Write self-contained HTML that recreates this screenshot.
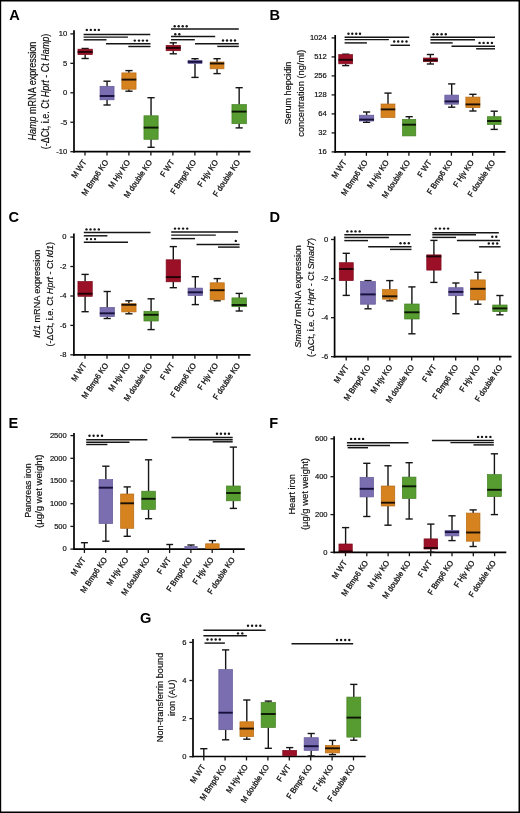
<!DOCTYPE html>
<html><head><meta charset="utf-8"><style>html,body{margin:0;padding:0;background:#fff;}svg{display:block;will-change:transform;}#w{width:520px;height:813px;overflow:hidden;}text{stroke:#222;stroke-width:0.18px;}</style></head><body><div id="w">
<svg width="520" height="813" viewBox="0 0 520 813">
<rect x="0" y="0" width="520" height="813" fill="#000"/>
<rect x="1.2" y="1.5" width="517.3" height="810" fill="#fff"/>
<text x="9.30" y="20.10" font-family='"Liberation Sans", sans-serif' font-weight="bold" font-size="14.60" style="stroke:none">A</text>
<line x1="74.00" y1="30.20" x2="74.00" y2="152.55" stroke="#000" stroke-width="1.7"/>
<line x1="73.15" y1="151.70" x2="250.50" y2="151.70" stroke="#000" stroke-width="1.7"/>
<line x1="70.40" y1="33.90" x2="74.00" y2="33.90" stroke="#151515" stroke-width="1.3"/>
<line x1="70.40" y1="63.35" x2="74.00" y2="63.35" stroke="#151515" stroke-width="1.3"/>
<line x1="70.40" y1="92.80" x2="74.00" y2="92.80" stroke="#151515" stroke-width="1.3"/>
<line x1="70.40" y1="122.25" x2="74.00" y2="122.25" stroke="#151515" stroke-width="1.3"/>
<line x1="70.40" y1="151.70" x2="74.00" y2="151.70" stroke="#151515" stroke-width="1.3"/>
<line x1="85.00" y1="151.70" x2="85.00" y2="155.60" stroke="#151515" stroke-width="1.3"/>
<line x1="107.00" y1="151.70" x2="107.00" y2="155.60" stroke="#151515" stroke-width="1.3"/>
<line x1="128.90" y1="151.70" x2="128.90" y2="155.60" stroke="#151515" stroke-width="1.3"/>
<line x1="150.90" y1="151.70" x2="150.90" y2="155.60" stroke="#151515" stroke-width="1.3"/>
<line x1="172.90" y1="151.70" x2="172.90" y2="155.60" stroke="#151515" stroke-width="1.3"/>
<line x1="194.90" y1="151.70" x2="194.90" y2="155.60" stroke="#151515" stroke-width="1.3"/>
<line x1="216.90" y1="151.70" x2="216.90" y2="155.60" stroke="#151515" stroke-width="1.3"/>
<line x1="238.90" y1="151.70" x2="238.90" y2="155.60" stroke="#151515" stroke-width="1.3"/>
<text x="67.30" y="36.26" text-anchor="end" font-family='"Liberation Sans", sans-serif' font-size="7.6">10</text>
<text x="67.30" y="65.71" text-anchor="end" font-family='"Liberation Sans", sans-serif' font-size="7.6">5</text>
<text x="67.30" y="95.16" text-anchor="end" font-family='"Liberation Sans", sans-serif' font-size="7.6">0</text>
<text x="67.30" y="124.61" text-anchor="end" font-family='"Liberation Sans", sans-serif' font-size="7.6">-5</text>
<text x="67.30" y="154.06" text-anchor="end" font-family='"Liberation Sans", sans-serif' font-size="7.6">-10</text>
<text transform="translate(35.90,91.10) rotate(-90)" text-anchor="middle" font-family='"Liberation Sans", sans-serif' font-size="10.20" textLength="99.00" lengthAdjust="spacingAndGlyphs"><tspan font-style="italic">Hamp</tspan> mRNA expression</text>
<text transform="translate(48.60,91.40) rotate(-90)" text-anchor="middle" font-family='"Liberation Sans", sans-serif' font-size="10.20" textLength="115.50" lengthAdjust="spacingAndGlyphs">(-ΔCt, i.e. Ct <tspan font-style="italic">Hprt</tspan> - Ct <tspan font-style="italic">Hamp</tspan>)</text>
<text transform="translate(86.70,162.20) rotate(-56) scale(0.93,1)" text-anchor="end" font-family='"Liberation Sans", sans-serif' font-size="8.1" style="stroke-width:0.3px">M WT</text>
<text transform="translate(108.70,162.20) rotate(-56) scale(0.93,1)" text-anchor="end" font-family='"Liberation Sans", sans-serif' font-size="8.1" style="stroke-width:0.3px">M Bmp6 KO</text>
<text transform="translate(130.60,162.20) rotate(-56) scale(0.93,1)" text-anchor="end" font-family='"Liberation Sans", sans-serif' font-size="8.1" style="stroke-width:0.3px">M Hjv KO</text>
<text transform="translate(152.60,162.20) rotate(-56) scale(0.93,1)" text-anchor="end" font-family='"Liberation Sans", sans-serif' font-size="8.1" style="stroke-width:0.3px">M double KO</text>
<text transform="translate(174.60,162.20) rotate(-56) scale(0.93,1)" text-anchor="end" font-family='"Liberation Sans", sans-serif' font-size="8.1" style="stroke-width:0.3px">F WT</text>
<text transform="translate(196.60,162.20) rotate(-56) scale(0.93,1)" text-anchor="end" font-family='"Liberation Sans", sans-serif' font-size="8.1" style="stroke-width:0.3px">F Bmp6 KO</text>
<text transform="translate(218.60,162.20) rotate(-56) scale(0.93,1)" text-anchor="end" font-family='"Liberation Sans", sans-serif' font-size="8.1" style="stroke-width:0.3px">F Hjv KO</text>
<text transform="translate(240.60,162.20) rotate(-56) scale(0.93,1)" text-anchor="end" font-family='"Liberation Sans", sans-serif' font-size="8.1" style="stroke-width:0.3px">F double KO</text>
<line x1="85.15" y1="48.50" x2="85.15" y2="49.20" stroke="#151515" stroke-width="1.4"/>
<line x1="81.55" y1="48.50" x2="88.75" y2="48.50" stroke="#151515" stroke-width="1.4"/>
<line x1="85.15" y1="54.60" x2="85.15" y2="58.50" stroke="#151515" stroke-width="1.4"/>
<line x1="81.55" y1="58.50" x2="88.75" y2="58.50" stroke="#151515" stroke-width="1.4"/>
<rect x="77.95" y="49.20" width="14.40" height="5.40" fill="#9b1026" stroke="#7c0a1c" stroke-width="0.7"/>
<line x1="77.70" y1="51.90" x2="92.60" y2="51.90" stroke="#1e0206" stroke-width="1.9"/>
<line x1="107.05" y1="81.20" x2="107.05" y2="86.30" stroke="#151515" stroke-width="1.4"/>
<line x1="103.45" y1="81.20" x2="110.65" y2="81.20" stroke="#151515" stroke-width="1.4"/>
<line x1="107.05" y1="99.80" x2="107.05" y2="105.00" stroke="#151515" stroke-width="1.4"/>
<line x1="103.45" y1="105.00" x2="110.65" y2="105.00" stroke="#151515" stroke-width="1.4"/>
<rect x="100.05" y="86.30" width="14.00" height="13.50" fill="#7a6db0" stroke="#625896" stroke-width="0.7"/>
<line x1="99.80" y1="96.00" x2="114.30" y2="96.00" stroke="#15113a" stroke-width="1.9"/>
<line x1="128.95" y1="70.60" x2="128.95" y2="72.90" stroke="#151515" stroke-width="1.4"/>
<line x1="125.35" y1="70.60" x2="132.55" y2="70.60" stroke="#151515" stroke-width="1.4"/>
<line x1="128.95" y1="89.20" x2="128.95" y2="91.20" stroke="#151515" stroke-width="1.4"/>
<line x1="125.35" y1="91.20" x2="132.55" y2="91.20" stroke="#151515" stroke-width="1.4"/>
<rect x="121.85" y="72.90" width="14.20" height="16.30" fill="#d6821f" stroke="#b86c15" stroke-width="0.7"/>
<line x1="121.60" y1="79.60" x2="136.30" y2="79.60" stroke="#1a1006" stroke-width="1.9"/>
<line x1="151.05" y1="97.70" x2="151.05" y2="115.80" stroke="#151515" stroke-width="1.4"/>
<line x1="147.45" y1="97.70" x2="154.65" y2="97.70" stroke="#151515" stroke-width="1.4"/>
<line x1="151.05" y1="139.30" x2="151.05" y2="147.30" stroke="#151515" stroke-width="1.4"/>
<line x1="147.45" y1="147.30" x2="154.65" y2="147.30" stroke="#151515" stroke-width="1.4"/>
<rect x="143.95" y="115.80" width="14.20" height="23.50" fill="#579c30" stroke="#447f24" stroke-width="0.7"/>
<line x1="143.70" y1="127.60" x2="158.40" y2="127.60" stroke="#0c1606" stroke-width="1.9"/>
<line x1="173.25" y1="42.80" x2="173.25" y2="45.40" stroke="#151515" stroke-width="1.4"/>
<line x1="169.65" y1="42.80" x2="176.85" y2="42.80" stroke="#151515" stroke-width="1.4"/>
<line x1="173.25" y1="50.70" x2="173.25" y2="53.80" stroke="#151515" stroke-width="1.4"/>
<line x1="169.65" y1="53.80" x2="176.85" y2="53.80" stroke="#151515" stroke-width="1.4"/>
<rect x="166.15" y="45.40" width="14.20" height="5.30" fill="#9b1026" stroke="#7c0a1c" stroke-width="0.7"/>
<line x1="165.90" y1="47.90" x2="180.60" y2="47.90" stroke="#1e0206" stroke-width="1.9"/>
<line x1="195.00" y1="58.70" x2="195.00" y2="60.30" stroke="#151515" stroke-width="1.4"/>
<line x1="191.40" y1="58.70" x2="198.60" y2="58.70" stroke="#151515" stroke-width="1.4"/>
<line x1="195.00" y1="63.50" x2="195.00" y2="77.40" stroke="#151515" stroke-width="1.4"/>
<line x1="191.40" y1="77.40" x2="198.60" y2="77.40" stroke="#151515" stroke-width="1.4"/>
<rect x="188.05" y="60.30" width="13.90" height="3.20" fill="#7a6db0" stroke="#625896" stroke-width="0.7"/>
<line x1="187.80" y1="61.90" x2="202.20" y2="61.90" stroke="#15113a" stroke-width="1.9"/>
<line x1="217.05" y1="58.70" x2="217.05" y2="62.00" stroke="#151515" stroke-width="1.4"/>
<line x1="213.45" y1="58.70" x2="220.65" y2="58.70" stroke="#151515" stroke-width="1.4"/>
<line x1="217.05" y1="68.80" x2="217.05" y2="73.60" stroke="#151515" stroke-width="1.4"/>
<line x1="213.45" y1="73.60" x2="220.65" y2="73.60" stroke="#151515" stroke-width="1.4"/>
<rect x="210.15" y="62.00" width="13.80" height="6.80" fill="#d6821f" stroke="#b86c15" stroke-width="0.7"/>
<line x1="209.90" y1="63.50" x2="224.20" y2="63.50" stroke="#1a1006" stroke-width="1.9"/>
<line x1="239.15" y1="87.70" x2="239.15" y2="104.60" stroke="#151515" stroke-width="1.4"/>
<line x1="235.55" y1="87.70" x2="242.75" y2="87.70" stroke="#151515" stroke-width="1.4"/>
<line x1="239.15" y1="123.70" x2="239.15" y2="127.90" stroke="#151515" stroke-width="1.4"/>
<line x1="235.55" y1="127.90" x2="242.75" y2="127.90" stroke="#151515" stroke-width="1.4"/>
<rect x="231.95" y="104.60" width="14.40" height="19.10" fill="#579c30" stroke="#447f24" stroke-width="0.7"/>
<line x1="231.70" y1="111.60" x2="246.60" y2="111.60" stroke="#0c1606" stroke-width="1.9"/>
<circle cx="86.80" cy="29.90" r="1.2" fill="#151515"/>
<circle cx="90.80" cy="29.90" r="1.2" fill="#151515"/>
<circle cx="94.90" cy="29.90" r="1.2" fill="#151515"/>
<circle cx="98.80" cy="29.90" r="1.2" fill="#151515"/>
<line x1="83.60" y1="34.50" x2="150.30" y2="34.50" stroke="#151515" stroke-width="1.45"/>
<line x1="83.60" y1="37.10" x2="127.90" y2="37.10" stroke="#151515" stroke-width="1.45"/>
<line x1="83.60" y1="39.80" x2="106.50" y2="39.80" stroke="#151515" stroke-width="1.45"/>
<line x1="106.00" y1="43.80" x2="150.50" y2="43.80" stroke="#151515" stroke-width="1.45"/>
<line x1="128.30" y1="46.50" x2="150.50" y2="46.50" stroke="#151515" stroke-width="1.45"/>
<circle cx="134.80" cy="40.60" r="1.2" fill="#151515"/>
<circle cx="139.00" cy="40.60" r="1.2" fill="#151515"/>
<circle cx="142.90" cy="40.60" r="1.2" fill="#151515"/>
<circle cx="147.00" cy="40.60" r="1.2" fill="#151515"/>
<circle cx="174.70" cy="26.30" r="1.2" fill="#151515"/>
<circle cx="178.70" cy="26.30" r="1.2" fill="#151515"/>
<circle cx="182.70" cy="26.30" r="1.2" fill="#151515"/>
<circle cx="186.70" cy="26.30" r="1.2" fill="#151515"/>
<circle cx="175.30" cy="34.20" r="1.2" fill="#151515"/>
<circle cx="179.30" cy="34.20" r="1.2" fill="#151515"/>
<circle cx="223.00" cy="40.50" r="1.2" fill="#151515"/>
<circle cx="227.00" cy="40.50" r="1.2" fill="#151515"/>
<circle cx="231.00" cy="40.50" r="1.2" fill="#151515"/>
<circle cx="235.00" cy="40.50" r="1.2" fill="#151515"/>
<line x1="171.00" y1="28.90" x2="238.80" y2="28.90" stroke="#151515" stroke-width="1.45"/>
<line x1="171.00" y1="36.50" x2="215.20" y2="36.50" stroke="#151515" stroke-width="1.45"/>
<line x1="171.00" y1="39.70" x2="194.80" y2="39.70" stroke="#151515" stroke-width="1.45"/>
<line x1="195.00" y1="43.70" x2="238.80" y2="43.70" stroke="#151515" stroke-width="1.45"/>
<line x1="217.30" y1="46.40" x2="238.80" y2="46.40" stroke="#151515" stroke-width="1.45"/>
<text x="269.40" y="20.30" font-family='"Liberation Sans", sans-serif' font-weight="bold" font-size="14.60" style="stroke:none">B</text>
<line x1="335.20" y1="35.00" x2="335.20" y2="152.75" stroke="#000" stroke-width="1.7"/>
<line x1="334.35" y1="151.90" x2="505.60" y2="151.90" stroke="#000" stroke-width="1.7"/>
<line x1="331.60" y1="37.90" x2="335.20" y2="37.90" stroke="#151515" stroke-width="1.3"/>
<line x1="331.60" y1="56.90" x2="335.20" y2="56.90" stroke="#151515" stroke-width="1.3"/>
<line x1="331.60" y1="75.90" x2="335.20" y2="75.90" stroke="#151515" stroke-width="1.3"/>
<line x1="331.60" y1="94.90" x2="335.20" y2="94.90" stroke="#151515" stroke-width="1.3"/>
<line x1="331.60" y1="113.90" x2="335.20" y2="113.90" stroke="#151515" stroke-width="1.3"/>
<line x1="331.60" y1="132.90" x2="335.20" y2="132.90" stroke="#151515" stroke-width="1.3"/>
<line x1="331.60" y1="151.90" x2="335.20" y2="151.90" stroke="#151515" stroke-width="1.3"/>
<line x1="345.20" y1="151.90" x2="345.20" y2="155.80" stroke="#151515" stroke-width="1.3"/>
<line x1="366.40" y1="151.90" x2="366.40" y2="155.80" stroke="#151515" stroke-width="1.3"/>
<line x1="387.60" y1="151.90" x2="387.60" y2="155.80" stroke="#151515" stroke-width="1.3"/>
<line x1="408.90" y1="151.90" x2="408.90" y2="155.80" stroke="#151515" stroke-width="1.3"/>
<line x1="430.20" y1="151.90" x2="430.20" y2="155.80" stroke="#151515" stroke-width="1.3"/>
<line x1="451.40" y1="151.90" x2="451.40" y2="155.80" stroke="#151515" stroke-width="1.3"/>
<line x1="472.60" y1="151.90" x2="472.60" y2="155.80" stroke="#151515" stroke-width="1.3"/>
<line x1="493.80" y1="151.90" x2="493.80" y2="155.80" stroke="#151515" stroke-width="1.3"/>
<text x="326.80" y="40.26" text-anchor="end" font-family='"Liberation Sans", sans-serif' font-size="7.6">1024</text>
<text x="326.80" y="59.26" text-anchor="end" font-family='"Liberation Sans", sans-serif' font-size="7.6">512</text>
<text x="326.80" y="78.26" text-anchor="end" font-family='"Liberation Sans", sans-serif' font-size="7.6">256</text>
<text x="326.80" y="97.26" text-anchor="end" font-family='"Liberation Sans", sans-serif' font-size="7.6">128</text>
<text x="326.80" y="116.26" text-anchor="end" font-family='"Liberation Sans", sans-serif' font-size="7.6">64</text>
<text x="326.80" y="135.26" text-anchor="end" font-family='"Liberation Sans", sans-serif' font-size="7.6">32</text>
<text x="326.80" y="154.26" text-anchor="end" font-family='"Liberation Sans", sans-serif' font-size="7.6">16</text>
<text transform="translate(291.00,93.10) rotate(-90)" text-anchor="middle" font-family='"Liberation Sans", sans-serif' font-size="9.40" textLength="63.00" lengthAdjust="spacingAndGlyphs">Serum hepcidin</text>
<text transform="translate(304.00,93.25) rotate(-90)" text-anchor="middle" font-family='"Liberation Sans", sans-serif' font-size="9.40" textLength="87.00" lengthAdjust="spacingAndGlyphs">concentration (ng/ml)</text>
<text transform="translate(346.90,162.40) rotate(-56) scale(0.93,1)" text-anchor="end" font-family='"Liberation Sans", sans-serif' font-size="8.1" style="stroke-width:0.3px">M WT</text>
<text transform="translate(368.10,162.40) rotate(-56) scale(0.93,1)" text-anchor="end" font-family='"Liberation Sans", sans-serif' font-size="8.1" style="stroke-width:0.3px">M Bmp6 KO</text>
<text transform="translate(389.30,162.40) rotate(-56) scale(0.93,1)" text-anchor="end" font-family='"Liberation Sans", sans-serif' font-size="8.1" style="stroke-width:0.3px">M Hjv KO</text>
<text transform="translate(410.60,162.40) rotate(-56) scale(0.93,1)" text-anchor="end" font-family='"Liberation Sans", sans-serif' font-size="8.1" style="stroke-width:0.3px">M double KO</text>
<text transform="translate(431.90,162.40) rotate(-56) scale(0.93,1)" text-anchor="end" font-family='"Liberation Sans", sans-serif' font-size="8.1" style="stroke-width:0.3px">F WT</text>
<text transform="translate(453.10,162.40) rotate(-56) scale(0.93,1)" text-anchor="end" font-family='"Liberation Sans", sans-serif' font-size="8.1" style="stroke-width:0.3px">F Bmp6 KO</text>
<text transform="translate(474.30,162.40) rotate(-56) scale(0.93,1)" text-anchor="end" font-family='"Liberation Sans", sans-serif' font-size="8.1" style="stroke-width:0.3px">F Hjv KO</text>
<text transform="translate(495.50,162.40) rotate(-56) scale(0.93,1)" text-anchor="end" font-family='"Liberation Sans", sans-serif' font-size="8.1" style="stroke-width:0.3px">F double KO</text>
<line x1="345.70" y1="54.20" x2="345.70" y2="54.60" stroke="#151515" stroke-width="1.4"/>
<line x1="342.10" y1="54.20" x2="349.30" y2="54.20" stroke="#151515" stroke-width="1.4"/>
<line x1="345.70" y1="63.80" x2="345.70" y2="65.60" stroke="#151515" stroke-width="1.4"/>
<line x1="342.10" y1="65.60" x2="349.30" y2="65.60" stroke="#151515" stroke-width="1.4"/>
<rect x="338.75" y="54.60" width="13.90" height="9.20" fill="#9b1026" stroke="#7c0a1c" stroke-width="0.7"/>
<line x1="338.50" y1="59.80" x2="352.90" y2="59.80" stroke="#1e0206" stroke-width="1.9"/>
<line x1="366.60" y1="112.00" x2="366.60" y2="115.20" stroke="#151515" stroke-width="1.4"/>
<line x1="363.00" y1="112.00" x2="370.20" y2="112.00" stroke="#151515" stroke-width="1.4"/>
<line x1="366.60" y1="121.00" x2="366.60" y2="122.30" stroke="#151515" stroke-width="1.4"/>
<line x1="363.00" y1="122.30" x2="370.20" y2="122.30" stroke="#151515" stroke-width="1.4"/>
<rect x="359.45" y="115.20" width="14.30" height="5.80" fill="#7a6db0" stroke="#625896" stroke-width="0.7"/>
<line x1="359.20" y1="119.60" x2="374.00" y2="119.60" stroke="#15113a" stroke-width="1.9"/>
<line x1="388.00" y1="93.10" x2="388.00" y2="104.00" stroke="#151515" stroke-width="1.4"/>
<line x1="384.40" y1="93.10" x2="391.60" y2="93.10" stroke="#151515" stroke-width="1.4"/>
<rect x="381.05" y="104.00" width="13.90" height="13.50" fill="#d6821f" stroke="#b86c15" stroke-width="0.7"/>
<line x1="380.80" y1="109.40" x2="395.20" y2="109.40" stroke="#1a1006" stroke-width="1.9"/>
<line x1="409.15" y1="116.70" x2="409.15" y2="119.40" stroke="#151515" stroke-width="1.4"/>
<line x1="405.55" y1="116.70" x2="412.75" y2="116.70" stroke="#151515" stroke-width="1.4"/>
<rect x="402.55" y="119.40" width="13.20" height="16.50" fill="#579c30" stroke="#447f24" stroke-width="0.7"/>
<line x1="402.30" y1="124.70" x2="416.00" y2="124.70" stroke="#0c1606" stroke-width="1.9"/>
<line x1="430.40" y1="54.50" x2="430.40" y2="58.00" stroke="#151515" stroke-width="1.4"/>
<line x1="426.80" y1="54.50" x2="434.00" y2="54.50" stroke="#151515" stroke-width="1.4"/>
<line x1="430.40" y1="61.70" x2="430.40" y2="64.00" stroke="#151515" stroke-width="1.4"/>
<line x1="426.80" y1="64.00" x2="434.00" y2="64.00" stroke="#151515" stroke-width="1.4"/>
<rect x="423.45" y="58.00" width="13.90" height="3.70" fill="#9b1026" stroke="#7c0a1c" stroke-width="0.7"/>
<line x1="423.20" y1="60.20" x2="437.60" y2="60.20" stroke="#1e0206" stroke-width="1.9"/>
<line x1="451.70" y1="83.90" x2="451.70" y2="95.10" stroke="#151515" stroke-width="1.4"/>
<line x1="448.10" y1="83.90" x2="455.30" y2="83.90" stroke="#151515" stroke-width="1.4"/>
<line x1="451.70" y1="104.20" x2="451.70" y2="107.20" stroke="#151515" stroke-width="1.4"/>
<line x1="448.10" y1="107.20" x2="455.30" y2="107.20" stroke="#151515" stroke-width="1.4"/>
<rect x="444.85" y="95.10" width="13.70" height="9.10" fill="#7a6db0" stroke="#625896" stroke-width="0.7"/>
<line x1="444.60" y1="101.40" x2="458.80" y2="101.40" stroke="#15113a" stroke-width="1.9"/>
<line x1="472.90" y1="94.30" x2="472.90" y2="97.10" stroke="#151515" stroke-width="1.4"/>
<line x1="469.30" y1="94.30" x2="476.50" y2="94.30" stroke="#151515" stroke-width="1.4"/>
<line x1="472.90" y1="107.60" x2="472.90" y2="111.00" stroke="#151515" stroke-width="1.4"/>
<line x1="469.30" y1="111.00" x2="476.50" y2="111.00" stroke="#151515" stroke-width="1.4"/>
<rect x="465.85" y="97.10" width="14.10" height="10.50" fill="#d6821f" stroke="#b86c15" stroke-width="0.7"/>
<line x1="465.60" y1="104.40" x2="480.20" y2="104.40" stroke="#1a1006" stroke-width="1.9"/>
<line x1="494.20" y1="111.20" x2="494.20" y2="116.70" stroke="#151515" stroke-width="1.4"/>
<line x1="490.60" y1="111.20" x2="497.80" y2="111.20" stroke="#151515" stroke-width="1.4"/>
<line x1="494.20" y1="124.40" x2="494.20" y2="129.40" stroke="#151515" stroke-width="1.4"/>
<line x1="490.60" y1="129.40" x2="497.80" y2="129.40" stroke="#151515" stroke-width="1.4"/>
<rect x="487.35" y="116.70" width="13.70" height="7.70" fill="#579c30" stroke="#447f24" stroke-width="0.7"/>
<line x1="487.10" y1="121.00" x2="501.30" y2="121.00" stroke="#0c1606" stroke-width="1.9"/>
<circle cx="348.50" cy="33.70" r="1.2" fill="#151515"/>
<circle cx="352.30" cy="33.70" r="1.2" fill="#151515"/>
<circle cx="356.20" cy="33.70" r="1.2" fill="#151515"/>
<circle cx="360.00" cy="33.70" r="1.2" fill="#151515"/>
<line x1="344.60" y1="37.20" x2="409.20" y2="37.20" stroke="#151515" stroke-width="1.45"/>
<line x1="344.60" y1="39.60" x2="388.90" y2="39.60" stroke="#151515" stroke-width="1.45"/>
<line x1="344.60" y1="42.90" x2="366.90" y2="42.90" stroke="#151515" stroke-width="1.45"/>
<line x1="390.50" y1="45.30" x2="410.00" y2="45.30" stroke="#151515" stroke-width="1.45"/>
<circle cx="394.20" cy="41.50" r="1.2" fill="#151515"/>
<circle cx="398.20" cy="41.50" r="1.2" fill="#151515"/>
<circle cx="402.30" cy="41.50" r="1.2" fill="#151515"/>
<circle cx="406.50" cy="41.50" r="1.2" fill="#151515"/>
<circle cx="433.50" cy="34.20" r="1.2" fill="#151515"/>
<circle cx="437.40" cy="34.20" r="1.2" fill="#151515"/>
<circle cx="441.60" cy="34.20" r="1.2" fill="#151515"/>
<circle cx="445.80" cy="34.20" r="1.2" fill="#151515"/>
<line x1="430.40" y1="37.20" x2="495.00" y2="37.20" stroke="#151515" stroke-width="1.45"/>
<line x1="430.40" y1="39.80" x2="475.00" y2="39.80" stroke="#151515" stroke-width="1.45"/>
<line x1="430.40" y1="42.90" x2="452.70" y2="42.90" stroke="#151515" stroke-width="1.45"/>
<line x1="451.50" y1="46.20" x2="495.00" y2="46.20" stroke="#151515" stroke-width="1.45"/>
<line x1="476.10" y1="48.80" x2="495.00" y2="48.80" stroke="#151515" stroke-width="1.45"/>
<circle cx="479.60" cy="42.90" r="1.2" fill="#151515"/>
<circle cx="483.60" cy="42.90" r="1.2" fill="#151515"/>
<circle cx="487.80" cy="42.90" r="1.2" fill="#151515"/>
<circle cx="491.90" cy="42.90" r="1.2" fill="#151515"/>
<text x="8.60" y="222.40" font-family='"Liberation Sans", sans-serif' font-weight="bold" font-size="14.60" style="stroke:none">C</text>
<line x1="73.90" y1="233.60" x2="73.90" y2="355.65" stroke="#000" stroke-width="1.7"/>
<line x1="73.05" y1="354.80" x2="250.50" y2="354.80" stroke="#000" stroke-width="1.7"/>
<line x1="70.30" y1="237.10" x2="73.90" y2="237.10" stroke="#151515" stroke-width="1.3"/>
<line x1="70.30" y1="266.50" x2="73.90" y2="266.50" stroke="#151515" stroke-width="1.3"/>
<line x1="70.30" y1="296.00" x2="73.90" y2="296.00" stroke="#151515" stroke-width="1.3"/>
<line x1="70.30" y1="325.40" x2="73.90" y2="325.40" stroke="#151515" stroke-width="1.3"/>
<line x1="70.30" y1="354.80" x2="73.90" y2="354.80" stroke="#151515" stroke-width="1.3"/>
<line x1="85.00" y1="354.80" x2="85.00" y2="358.70" stroke="#151515" stroke-width="1.3"/>
<line x1="107.00" y1="354.80" x2="107.00" y2="358.70" stroke="#151515" stroke-width="1.3"/>
<line x1="128.90" y1="354.80" x2="128.90" y2="358.70" stroke="#151515" stroke-width="1.3"/>
<line x1="150.90" y1="354.80" x2="150.90" y2="358.70" stroke="#151515" stroke-width="1.3"/>
<line x1="172.90" y1="354.80" x2="172.90" y2="358.70" stroke="#151515" stroke-width="1.3"/>
<line x1="194.90" y1="354.80" x2="194.90" y2="358.70" stroke="#151515" stroke-width="1.3"/>
<line x1="216.90" y1="354.80" x2="216.90" y2="358.70" stroke="#151515" stroke-width="1.3"/>
<line x1="238.90" y1="354.80" x2="238.90" y2="358.70" stroke="#151515" stroke-width="1.3"/>
<text x="66.60" y="239.46" text-anchor="end" font-family='"Liberation Sans", sans-serif' font-size="7.6">0</text>
<text x="66.60" y="268.86" text-anchor="end" font-family='"Liberation Sans", sans-serif' font-size="7.6">-2</text>
<text x="66.60" y="298.36" text-anchor="end" font-family='"Liberation Sans", sans-serif' font-size="7.6">-4</text>
<text x="66.60" y="327.76" text-anchor="end" font-family='"Liberation Sans", sans-serif' font-size="7.6">-6</text>
<text x="66.60" y="357.16" text-anchor="end" font-family='"Liberation Sans", sans-serif' font-size="7.6">-8</text>
<text transform="translate(40.20,293.70) rotate(-90)" text-anchor="middle" font-family='"Liberation Sans", sans-serif' font-size="9.80" textLength="88.00" lengthAdjust="spacingAndGlyphs"><tspan font-style="italic">Id1</tspan> mRNA expression</text>
<text transform="translate(52.60,294.15) rotate(-90)" text-anchor="middle" font-family='"Liberation Sans", sans-serif' font-size="9.80" textLength="104.50" lengthAdjust="spacingAndGlyphs">(-ΔCt, i.e. Ct <tspan font-style="italic">Hprt</tspan> - Ct <tspan font-style="italic">Id1</tspan>)</text>
<text transform="translate(86.70,365.30) rotate(-56) scale(0.93,1)" text-anchor="end" font-family='"Liberation Sans", sans-serif' font-size="8.1" style="stroke-width:0.3px">M WT</text>
<text transform="translate(108.70,365.30) rotate(-56) scale(0.93,1)" text-anchor="end" font-family='"Liberation Sans", sans-serif' font-size="8.1" style="stroke-width:0.3px">M Bmp6 KO</text>
<text transform="translate(130.60,365.30) rotate(-56) scale(0.93,1)" text-anchor="end" font-family='"Liberation Sans", sans-serif' font-size="8.1" style="stroke-width:0.3px">M Hjv KO</text>
<text transform="translate(152.60,365.30) rotate(-56) scale(0.93,1)" text-anchor="end" font-family='"Liberation Sans", sans-serif' font-size="8.1" style="stroke-width:0.3px">M double KO</text>
<text transform="translate(174.60,365.30) rotate(-56) scale(0.93,1)" text-anchor="end" font-family='"Liberation Sans", sans-serif' font-size="8.1" style="stroke-width:0.3px">F WT</text>
<text transform="translate(196.60,365.30) rotate(-56) scale(0.93,1)" text-anchor="end" font-family='"Liberation Sans", sans-serif' font-size="8.1" style="stroke-width:0.3px">F Bmp6 KO</text>
<text transform="translate(218.60,365.30) rotate(-56) scale(0.93,1)" text-anchor="end" font-family='"Liberation Sans", sans-serif' font-size="8.1" style="stroke-width:0.3px">F Hjv KO</text>
<text transform="translate(240.60,365.30) rotate(-56) scale(0.93,1)" text-anchor="end" font-family='"Liberation Sans", sans-serif' font-size="8.1" style="stroke-width:0.3px">F double KO</text>
<line x1="85.10" y1="274.40" x2="85.10" y2="281.50" stroke="#151515" stroke-width="1.4"/>
<line x1="81.50" y1="274.40" x2="88.70" y2="274.40" stroke="#151515" stroke-width="1.4"/>
<line x1="85.10" y1="296.30" x2="85.10" y2="311.70" stroke="#151515" stroke-width="1.4"/>
<line x1="81.50" y1="311.70" x2="88.70" y2="311.70" stroke="#151515" stroke-width="1.4"/>
<rect x="77.95" y="281.50" width="14.30" height="14.80" fill="#9b1026" stroke="#7c0a1c" stroke-width="0.7"/>
<line x1="77.70" y1="293.70" x2="92.50" y2="293.70" stroke="#1e0206" stroke-width="1.9"/>
<line x1="107.20" y1="291.50" x2="107.20" y2="307.50" stroke="#151515" stroke-width="1.4"/>
<line x1="103.60" y1="291.50" x2="110.80" y2="291.50" stroke="#151515" stroke-width="1.4"/>
<line x1="107.20" y1="316.50" x2="107.20" y2="318.50" stroke="#151515" stroke-width="1.4"/>
<line x1="103.60" y1="318.50" x2="110.80" y2="318.50" stroke="#151515" stroke-width="1.4"/>
<rect x="100.05" y="307.50" width="14.30" height="9.00" fill="#7a6db0" stroke="#625896" stroke-width="0.7"/>
<line x1="99.80" y1="313.30" x2="114.60" y2="313.30" stroke="#15113a" stroke-width="1.9"/>
<line x1="128.90" y1="300.80" x2="128.90" y2="303.70" stroke="#151515" stroke-width="1.4"/>
<line x1="125.30" y1="300.80" x2="132.50" y2="300.80" stroke="#151515" stroke-width="1.4"/>
<line x1="128.90" y1="311.90" x2="128.90" y2="313.80" stroke="#151515" stroke-width="1.4"/>
<line x1="125.30" y1="313.80" x2="132.50" y2="313.80" stroke="#151515" stroke-width="1.4"/>
<rect x="121.75" y="303.70" width="14.30" height="8.20" fill="#d6821f" stroke="#b86c15" stroke-width="0.7"/>
<line x1="121.50" y1="304.80" x2="136.30" y2="304.80" stroke="#1a1006" stroke-width="1.9"/>
<line x1="151.10" y1="298.80" x2="151.10" y2="311.30" stroke="#151515" stroke-width="1.4"/>
<line x1="147.50" y1="298.80" x2="154.70" y2="298.80" stroke="#151515" stroke-width="1.4"/>
<line x1="151.10" y1="321.00" x2="151.10" y2="329.60" stroke="#151515" stroke-width="1.4"/>
<line x1="147.50" y1="329.60" x2="154.70" y2="329.60" stroke="#151515" stroke-width="1.4"/>
<rect x="143.95" y="311.30" width="14.30" height="9.70" fill="#579c30" stroke="#447f24" stroke-width="0.7"/>
<line x1="143.70" y1="314.80" x2="158.50" y2="314.80" stroke="#0c1606" stroke-width="1.9"/>
<line x1="173.30" y1="246.60" x2="173.30" y2="259.80" stroke="#151515" stroke-width="1.4"/>
<line x1="169.70" y1="246.60" x2="176.90" y2="246.60" stroke="#151515" stroke-width="1.4"/>
<line x1="173.30" y1="281.80" x2="173.30" y2="287.70" stroke="#151515" stroke-width="1.4"/>
<line x1="169.70" y1="287.70" x2="176.90" y2="287.70" stroke="#151515" stroke-width="1.4"/>
<rect x="166.15" y="259.80" width="14.30" height="22.00" fill="#9b1026" stroke="#7c0a1c" stroke-width="0.7"/>
<line x1="165.90" y1="277.10" x2="180.70" y2="277.10" stroke="#1e0206" stroke-width="1.9"/>
<line x1="195.30" y1="276.70" x2="195.30" y2="288.10" stroke="#151515" stroke-width="1.4"/>
<line x1="191.70" y1="276.70" x2="198.90" y2="276.70" stroke="#151515" stroke-width="1.4"/>
<line x1="195.30" y1="295.50" x2="195.30" y2="304.60" stroke="#151515" stroke-width="1.4"/>
<line x1="191.70" y1="304.60" x2="198.90" y2="304.60" stroke="#151515" stroke-width="1.4"/>
<rect x="188.05" y="288.10" width="14.50" height="7.40" fill="#7a6db0" stroke="#625896" stroke-width="0.7"/>
<line x1="187.80" y1="292.30" x2="202.80" y2="292.30" stroke="#15113a" stroke-width="1.9"/>
<line x1="217.20" y1="278.60" x2="217.20" y2="282.80" stroke="#151515" stroke-width="1.4"/>
<line x1="213.60" y1="278.60" x2="220.80" y2="278.60" stroke="#151515" stroke-width="1.4"/>
<line x1="217.20" y1="299.80" x2="217.20" y2="300.80" stroke="#151515" stroke-width="1.4"/>
<line x1="213.60" y1="300.80" x2="220.80" y2="300.80" stroke="#151515" stroke-width="1.4"/>
<rect x="210.15" y="282.80" width="14.10" height="17.00" fill="#d6821f" stroke="#b86c15" stroke-width="0.7"/>
<line x1="209.90" y1="290.20" x2="224.50" y2="290.20" stroke="#1a1006" stroke-width="1.9"/>
<line x1="239.20" y1="293.40" x2="239.20" y2="297.90" stroke="#151515" stroke-width="1.4"/>
<line x1="235.60" y1="293.40" x2="242.80" y2="293.40" stroke="#151515" stroke-width="1.4"/>
<line x1="239.20" y1="306.70" x2="239.20" y2="311.00" stroke="#151515" stroke-width="1.4"/>
<line x1="235.60" y1="311.00" x2="242.80" y2="311.00" stroke="#151515" stroke-width="1.4"/>
<rect x="231.95" y="297.90" width="14.50" height="8.80" fill="#579c30" stroke="#447f24" stroke-width="0.7"/>
<line x1="231.70" y1="305.00" x2="246.70" y2="305.00" stroke="#0c1606" stroke-width="1.9"/>
<circle cx="86.50" cy="229.40" r="1.2" fill="#151515"/>
<circle cx="90.50" cy="229.40" r="1.2" fill="#151515"/>
<circle cx="94.60" cy="229.40" r="1.2" fill="#151515"/>
<circle cx="98.80" cy="229.40" r="1.2" fill="#151515"/>
<line x1="83.80" y1="232.50" x2="150.50" y2="232.50" stroke="#151515" stroke-width="1.45"/>
<line x1="83.80" y1="235.80" x2="107.40" y2="235.80" stroke="#151515" stroke-width="1.45"/>
<line x1="83.80" y1="242.20" x2="128.00" y2="242.20" stroke="#151515" stroke-width="1.45"/>
<circle cx="86.90" cy="239.10" r="1.2" fill="#151515"/>
<circle cx="91.00" cy="239.10" r="1.2" fill="#151515"/>
<circle cx="95.00" cy="239.10" r="1.2" fill="#151515"/>
<circle cx="175.00" cy="228.60" r="1.2" fill="#151515"/>
<circle cx="178.90" cy="228.60" r="1.2" fill="#151515"/>
<circle cx="183.10" cy="228.60" r="1.2" fill="#151515"/>
<circle cx="187.20" cy="228.60" r="1.2" fill="#151515"/>
<line x1="171.20" y1="232.00" x2="238.10" y2="232.00" stroke="#151515" stroke-width="1.45"/>
<line x1="171.20" y1="235.10" x2="215.80" y2="235.10" stroke="#151515" stroke-width="1.45"/>
<line x1="171.20" y1="238.60" x2="195.00" y2="238.60" stroke="#151515" stroke-width="1.45"/>
<line x1="196.50" y1="244.50" x2="239.60" y2="244.50" stroke="#151515" stroke-width="1.45"/>
<line x1="218.00" y1="247.10" x2="239.60" y2="247.10" stroke="#151515" stroke-width="1.45"/>
<circle cx="235.80" cy="240.90" r="1.2" fill="#151515"/>
<text x="269.40" y="222.20" font-family='"Liberation Sans", sans-serif' font-weight="bold" font-size="14.60" style="stroke:none">D</text>
<line x1="334.60" y1="236.40" x2="334.60" y2="357.55" stroke="#000" stroke-width="1.7"/>
<line x1="333.75" y1="356.70" x2="511.50" y2="356.70" stroke="#000" stroke-width="1.7"/>
<line x1="331.00" y1="239.50" x2="334.60" y2="239.50" stroke="#151515" stroke-width="1.3"/>
<line x1="331.00" y1="278.60" x2="334.60" y2="278.60" stroke="#151515" stroke-width="1.3"/>
<line x1="331.00" y1="317.70" x2="334.60" y2="317.70" stroke="#151515" stroke-width="1.3"/>
<line x1="331.00" y1="356.70" x2="334.60" y2="356.70" stroke="#151515" stroke-width="1.3"/>
<line x1="346.20" y1="356.70" x2="346.20" y2="360.60" stroke="#151515" stroke-width="1.3"/>
<line x1="368.00" y1="356.70" x2="368.00" y2="360.60" stroke="#151515" stroke-width="1.3"/>
<line x1="389.80" y1="356.70" x2="389.80" y2="360.60" stroke="#151515" stroke-width="1.3"/>
<line x1="411.70" y1="356.70" x2="411.70" y2="360.60" stroke="#151515" stroke-width="1.3"/>
<line x1="433.70" y1="356.70" x2="433.70" y2="360.60" stroke="#151515" stroke-width="1.3"/>
<line x1="455.70" y1="356.70" x2="455.70" y2="360.60" stroke="#151515" stroke-width="1.3"/>
<line x1="477.70" y1="356.70" x2="477.70" y2="360.60" stroke="#151515" stroke-width="1.3"/>
<line x1="499.80" y1="356.70" x2="499.80" y2="360.60" stroke="#151515" stroke-width="1.3"/>
<text x="328.30" y="241.86" text-anchor="end" font-family='"Liberation Sans", sans-serif' font-size="7.6">0</text>
<text x="328.30" y="280.96" text-anchor="end" font-family='"Liberation Sans", sans-serif' font-size="7.6">-2</text>
<text x="328.30" y="320.06" text-anchor="end" font-family='"Liberation Sans", sans-serif' font-size="7.6">-4</text>
<text x="328.30" y="359.06" text-anchor="end" font-family='"Liberation Sans", sans-serif' font-size="7.6">-6</text>
<text transform="translate(301.20,296.40) rotate(-90)" text-anchor="middle" font-family='"Liberation Sans", sans-serif' font-size="9.70" textLength="102.50" lengthAdjust="spacingAndGlyphs"><tspan font-style="italic">Smad7</tspan> mRNA expression</text>
<text transform="translate(313.80,297.60) rotate(-90)" text-anchor="middle" font-family='"Liberation Sans", sans-serif' font-size="9.70" textLength="119.00" lengthAdjust="spacingAndGlyphs">(-ΔCt, i.e. Ct <tspan font-style="italic">Hprt</tspan> - Ct <tspan font-style="italic">Smad7</tspan>)</text>
<text transform="translate(349.10,367.20) rotate(-56) scale(0.93,1)" text-anchor="end" font-family='"Liberation Sans", sans-serif' font-size="8.1" style="stroke-width:0.3px">M WT</text>
<text transform="translate(370.90,367.20) rotate(-56) scale(0.93,1)" text-anchor="end" font-family='"Liberation Sans", sans-serif' font-size="8.1" style="stroke-width:0.3px">M Bmp6 KO</text>
<text transform="translate(392.70,367.20) rotate(-56) scale(0.93,1)" text-anchor="end" font-family='"Liberation Sans", sans-serif' font-size="8.1" style="stroke-width:0.3px">M Hjv KO</text>
<text transform="translate(414.60,367.20) rotate(-56) scale(0.93,1)" text-anchor="end" font-family='"Liberation Sans", sans-serif' font-size="8.1" style="stroke-width:0.3px">M double KO</text>
<text transform="translate(436.60,367.20) rotate(-56) scale(0.93,1)" text-anchor="end" font-family='"Liberation Sans", sans-serif' font-size="8.1" style="stroke-width:0.3px">F WT</text>
<text transform="translate(458.60,367.20) rotate(-56) scale(0.93,1)" text-anchor="end" font-family='"Liberation Sans", sans-serif' font-size="8.1" style="stroke-width:0.3px">F Bmp6 KO</text>
<text transform="translate(480.60,367.20) rotate(-56) scale(0.93,1)" text-anchor="end" font-family='"Liberation Sans", sans-serif' font-size="8.1" style="stroke-width:0.3px">F Hjv KO</text>
<text transform="translate(502.70,367.20) rotate(-56) scale(0.93,1)" text-anchor="end" font-family='"Liberation Sans", sans-serif' font-size="8.1" style="stroke-width:0.3px">F double KO</text>
<line x1="346.25" y1="253.30" x2="346.25" y2="262.70" stroke="#151515" stroke-width="1.4"/>
<line x1="342.65" y1="253.30" x2="349.85" y2="253.30" stroke="#151515" stroke-width="1.4"/>
<line x1="346.25" y1="280.60" x2="346.25" y2="295.40" stroke="#151515" stroke-width="1.4"/>
<line x1="342.65" y1="295.40" x2="349.85" y2="295.40" stroke="#151515" stroke-width="1.4"/>
<rect x="339.25" y="262.70" width="14.00" height="17.90" fill="#9b1026" stroke="#7c0a1c" stroke-width="0.7"/>
<line x1="339.00" y1="269.00" x2="353.50" y2="269.00" stroke="#1e0206" stroke-width="1.9"/>
<line x1="368.00" y1="280.60" x2="368.00" y2="281.50" stroke="#151515" stroke-width="1.4"/>
<line x1="364.40" y1="280.60" x2="371.60" y2="280.60" stroke="#151515" stroke-width="1.4"/>
<line x1="368.00" y1="304.20" x2="368.00" y2="308.80" stroke="#151515" stroke-width="1.4"/>
<line x1="364.40" y1="308.80" x2="371.60" y2="308.80" stroke="#151515" stroke-width="1.4"/>
<rect x="360.65" y="281.50" width="14.70" height="22.70" fill="#7a6db0" stroke="#625896" stroke-width="0.7"/>
<line x1="360.40" y1="294.40" x2="375.60" y2="294.40" stroke="#15113a" stroke-width="1.9"/>
<line x1="389.80" y1="280.60" x2="389.80" y2="289.60" stroke="#151515" stroke-width="1.4"/>
<line x1="386.20" y1="280.60" x2="393.40" y2="280.60" stroke="#151515" stroke-width="1.4"/>
<line x1="389.80" y1="299.20" x2="389.80" y2="300.80" stroke="#151515" stroke-width="1.4"/>
<line x1="386.20" y1="300.80" x2="393.40" y2="300.80" stroke="#151515" stroke-width="1.4"/>
<rect x="382.55" y="289.60" width="14.50" height="9.60" fill="#d6821f" stroke="#b86c15" stroke-width="0.7"/>
<line x1="382.30" y1="296.30" x2="397.30" y2="296.30" stroke="#1a1006" stroke-width="1.9"/>
<line x1="411.90" y1="286.90" x2="411.90" y2="304.00" stroke="#151515" stroke-width="1.4"/>
<line x1="408.30" y1="286.90" x2="415.50" y2="286.90" stroke="#151515" stroke-width="1.4"/>
<line x1="411.90" y1="319.00" x2="411.90" y2="333.80" stroke="#151515" stroke-width="1.4"/>
<line x1="408.30" y1="333.80" x2="415.50" y2="333.80" stroke="#151515" stroke-width="1.4"/>
<rect x="404.65" y="304.00" width="14.50" height="15.00" fill="#579c30" stroke="#447f24" stroke-width="0.7"/>
<line x1="404.40" y1="312.30" x2="419.40" y2="312.30" stroke="#0c1606" stroke-width="1.9"/>
<line x1="433.90" y1="240.40" x2="433.90" y2="254.90" stroke="#151515" stroke-width="1.4"/>
<line x1="430.30" y1="240.40" x2="437.50" y2="240.40" stroke="#151515" stroke-width="1.4"/>
<line x1="433.90" y1="270.10" x2="433.90" y2="282.40" stroke="#151515" stroke-width="1.4"/>
<line x1="430.30" y1="282.40" x2="437.50" y2="282.40" stroke="#151515" stroke-width="1.4"/>
<rect x="426.75" y="254.90" width="14.30" height="15.20" fill="#9b1026" stroke="#7c0a1c" stroke-width="0.7"/>
<line x1="426.50" y1="256.40" x2="441.30" y2="256.40" stroke="#1e0206" stroke-width="1.9"/>
<line x1="455.90" y1="283.00" x2="455.90" y2="287.70" stroke="#151515" stroke-width="1.4"/>
<line x1="452.30" y1="283.00" x2="459.50" y2="283.00" stroke="#151515" stroke-width="1.4"/>
<line x1="455.90" y1="295.70" x2="455.90" y2="313.70" stroke="#151515" stroke-width="1.4"/>
<line x1="452.30" y1="313.70" x2="459.50" y2="313.70" stroke="#151515" stroke-width="1.4"/>
<rect x="448.75" y="287.70" width="14.30" height="8.00" fill="#7a6db0" stroke="#625896" stroke-width="0.7"/>
<line x1="448.50" y1="291.90" x2="463.30" y2="291.90" stroke="#15113a" stroke-width="1.9"/>
<line x1="477.90" y1="272.30" x2="477.90" y2="279.90" stroke="#151515" stroke-width="1.4"/>
<line x1="474.30" y1="272.30" x2="481.50" y2="272.30" stroke="#151515" stroke-width="1.4"/>
<line x1="477.90" y1="300.00" x2="477.90" y2="304.20" stroke="#151515" stroke-width="1.4"/>
<line x1="474.30" y1="304.20" x2="481.50" y2="304.20" stroke="#151515" stroke-width="1.4"/>
<rect x="470.55" y="279.90" width="14.70" height="20.10" fill="#d6821f" stroke="#b86c15" stroke-width="0.7"/>
<line x1="470.30" y1="288.80" x2="485.50" y2="288.80" stroke="#1a1006" stroke-width="1.9"/>
<line x1="499.90" y1="295.50" x2="499.90" y2="305.00" stroke="#151515" stroke-width="1.4"/>
<line x1="496.30" y1="295.50" x2="503.50" y2="295.50" stroke="#151515" stroke-width="1.4"/>
<line x1="499.90" y1="311.60" x2="499.90" y2="314.80" stroke="#151515" stroke-width="1.4"/>
<line x1="496.30" y1="314.80" x2="503.50" y2="314.80" stroke="#151515" stroke-width="1.4"/>
<rect x="492.75" y="305.00" width="14.30" height="6.60" fill="#579c30" stroke="#447f24" stroke-width="0.7"/>
<line x1="492.50" y1="308.40" x2="507.30" y2="308.40" stroke="#0c1606" stroke-width="1.9"/>
<circle cx="347.40" cy="231.40" r="1.2" fill="#151515"/>
<circle cx="351.50" cy="231.40" r="1.2" fill="#151515"/>
<circle cx="355.50" cy="231.40" r="1.2" fill="#151515"/>
<circle cx="359.70" cy="231.40" r="1.2" fill="#151515"/>
<line x1="344.30" y1="234.80" x2="410.80" y2="234.80" stroke="#151515" stroke-width="1.45"/>
<line x1="344.30" y1="237.50" x2="388.90" y2="237.50" stroke="#151515" stroke-width="1.45"/>
<line x1="344.30" y1="240.60" x2="368.00" y2="240.60" stroke="#151515" stroke-width="1.45"/>
<line x1="368.20" y1="246.80" x2="411.50" y2="246.80" stroke="#151515" stroke-width="1.45"/>
<line x1="390.00" y1="249.40" x2="411.50" y2="249.40" stroke="#151515" stroke-width="1.45"/>
<circle cx="400.50" cy="243.20" r="1.2" fill="#151515"/>
<circle cx="404.60" cy="243.20" r="1.2" fill="#151515"/>
<circle cx="408.80" cy="243.20" r="1.2" fill="#151515"/>
<circle cx="435.70" cy="228.60" r="1.2" fill="#151515"/>
<circle cx="439.90" cy="228.60" r="1.2" fill="#151515"/>
<circle cx="444.10" cy="228.60" r="1.2" fill="#151515"/>
<circle cx="448.10" cy="228.60" r="1.2" fill="#151515"/>
<line x1="432.30" y1="232.80" x2="498.80" y2="232.80" stroke="#151515" stroke-width="1.45"/>
<line x1="432.30" y1="234.80" x2="476.00" y2="234.80" stroke="#151515" stroke-width="1.45"/>
<line x1="432.30" y1="237.40" x2="456.00" y2="237.40" stroke="#151515" stroke-width="1.45"/>
<line x1="456.90" y1="240.50" x2="500.00" y2="240.50" stroke="#151515" stroke-width="1.45"/>
<line x1="479.10" y1="246.80" x2="500.60" y2="246.80" stroke="#151515" stroke-width="1.45"/>
<circle cx="492.30" cy="236.80" r="1.2" fill="#151515"/>
<circle cx="496.30" cy="236.80" r="1.2" fill="#151515"/>
<circle cx="488.80" cy="243.50" r="1.2" fill="#151515"/>
<circle cx="493.00" cy="243.50" r="1.2" fill="#151515"/>
<circle cx="497.20" cy="243.50" r="1.2" fill="#151515"/>
<text x="8.60" y="427.80" font-family='"Liberation Sans", sans-serif' font-weight="bold" font-size="14.60" style="stroke:none">E</text>
<line x1="74.00" y1="433.00" x2="74.00" y2="549.95" stroke="#000" stroke-width="1.7"/>
<line x1="73.15" y1="549.10" x2="244.80" y2="549.10" stroke="#000" stroke-width="1.7"/>
<line x1="70.40" y1="435.60" x2="74.00" y2="435.60" stroke="#151515" stroke-width="1.3"/>
<line x1="70.40" y1="458.30" x2="74.00" y2="458.30" stroke="#151515" stroke-width="1.3"/>
<line x1="70.40" y1="481.00" x2="74.00" y2="481.00" stroke="#151515" stroke-width="1.3"/>
<line x1="70.40" y1="503.70" x2="74.00" y2="503.70" stroke="#151515" stroke-width="1.3"/>
<line x1="70.40" y1="526.40" x2="74.00" y2="526.40" stroke="#151515" stroke-width="1.3"/>
<line x1="70.40" y1="549.10" x2="74.00" y2="549.10" stroke="#151515" stroke-width="1.3"/>
<line x1="84.40" y1="549.10" x2="84.40" y2="553.00" stroke="#151515" stroke-width="1.3"/>
<line x1="105.70" y1="549.10" x2="105.70" y2="553.00" stroke="#151515" stroke-width="1.3"/>
<line x1="127.00" y1="549.10" x2="127.00" y2="553.00" stroke="#151515" stroke-width="1.3"/>
<line x1="148.30" y1="549.10" x2="148.30" y2="553.00" stroke="#151515" stroke-width="1.3"/>
<line x1="169.60" y1="549.10" x2="169.60" y2="553.00" stroke="#151515" stroke-width="1.3"/>
<line x1="190.90" y1="549.10" x2="190.90" y2="553.00" stroke="#151515" stroke-width="1.3"/>
<line x1="212.20" y1="549.10" x2="212.20" y2="553.00" stroke="#151515" stroke-width="1.3"/>
<line x1="233.50" y1="549.10" x2="233.50" y2="553.00" stroke="#151515" stroke-width="1.3"/>
<text x="66.80" y="437.96" text-anchor="end" font-family='"Liberation Sans", sans-serif' font-size="7.6">2500</text>
<text x="66.80" y="460.66" text-anchor="end" font-family='"Liberation Sans", sans-serif' font-size="7.6">2000</text>
<text x="66.80" y="483.36" text-anchor="end" font-family='"Liberation Sans", sans-serif' font-size="7.6">1500</text>
<text x="66.80" y="506.06" text-anchor="end" font-family='"Liberation Sans", sans-serif' font-size="7.6">1000</text>
<text x="66.80" y="528.76" text-anchor="end" font-family='"Liberation Sans", sans-serif' font-size="7.6">500</text>
<text x="66.80" y="551.46" text-anchor="end" font-family='"Liberation Sans", sans-serif' font-size="7.6">0</text>
<text transform="translate(30.50,490.60) rotate(-90)" text-anchor="middle" font-family='"Liberation Sans", sans-serif' font-size="9.60" textLength="54.50" lengthAdjust="spacingAndGlyphs">Pancreas iron</text>
<text transform="translate(42.00,491.20) rotate(-90)" text-anchor="middle" font-family='"Liberation Sans", sans-serif' font-size="9.60" textLength="73.50" lengthAdjust="spacingAndGlyphs">(µg/g wet weight)</text>
<text transform="translate(86.10,559.60) rotate(-56) scale(0.93,1)" text-anchor="end" font-family='"Liberation Sans", sans-serif' font-size="8.1" style="stroke-width:0.3px">M WT</text>
<text transform="translate(107.40,559.60) rotate(-56) scale(0.93,1)" text-anchor="end" font-family='"Liberation Sans", sans-serif' font-size="8.1" style="stroke-width:0.3px">M Bmp6 KO</text>
<text transform="translate(128.70,559.60) rotate(-56) scale(0.93,1)" text-anchor="end" font-family='"Liberation Sans", sans-serif' font-size="8.1" style="stroke-width:0.3px">M Hjv KO</text>
<text transform="translate(150.00,559.60) rotate(-56) scale(0.93,1)" text-anchor="end" font-family='"Liberation Sans", sans-serif' font-size="8.1" style="stroke-width:0.3px">M double KO</text>
<text transform="translate(171.30,559.60) rotate(-56) scale(0.93,1)" text-anchor="end" font-family='"Liberation Sans", sans-serif' font-size="8.1" style="stroke-width:0.3px">F WT</text>
<text transform="translate(192.60,559.60) rotate(-56) scale(0.93,1)" text-anchor="end" font-family='"Liberation Sans", sans-serif' font-size="8.1" style="stroke-width:0.3px">F Bmp6 KO</text>
<text transform="translate(213.90,559.60) rotate(-56) scale(0.93,1)" text-anchor="end" font-family='"Liberation Sans", sans-serif' font-size="8.1" style="stroke-width:0.3px">F Hjv KO</text>
<text transform="translate(235.20,559.60) rotate(-56) scale(0.93,1)" text-anchor="end" font-family='"Liberation Sans", sans-serif' font-size="8.1" style="stroke-width:0.3px">F double KO</text>
<line x1="84.40" y1="542.70" x2="84.40" y2="548.20" stroke="#151515" stroke-width="1.4"/>
<line x1="80.90" y1="542.70" x2="87.90" y2="542.70" stroke="#151515" stroke-width="1.4"/>
<line x1="105.85" y1="466.20" x2="105.85" y2="479.60" stroke="#151515" stroke-width="1.4"/>
<line x1="102.25" y1="466.20" x2="109.45" y2="466.20" stroke="#151515" stroke-width="1.4"/>
<line x1="105.85" y1="523.50" x2="105.85" y2="541.20" stroke="#151515" stroke-width="1.4"/>
<line x1="102.25" y1="541.20" x2="109.45" y2="541.20" stroke="#151515" stroke-width="1.4"/>
<rect x="99.05" y="479.60" width="13.60" height="43.90" fill="#7a6db0" stroke="#625896" stroke-width="0.7"/>
<line x1="98.80" y1="487.70" x2="112.90" y2="487.70" stroke="#15113a" stroke-width="1.9"/>
<line x1="127.20" y1="486.90" x2="127.20" y2="494.00" stroke="#151515" stroke-width="1.4"/>
<line x1="123.60" y1="486.90" x2="130.80" y2="486.90" stroke="#151515" stroke-width="1.4"/>
<line x1="127.20" y1="528.30" x2="127.20" y2="536.30" stroke="#151515" stroke-width="1.4"/>
<line x1="123.60" y1="536.30" x2="130.80" y2="536.30" stroke="#151515" stroke-width="1.4"/>
<rect x="120.65" y="494.00" width="13.10" height="34.30" fill="#d6821f" stroke="#b86c15" stroke-width="0.7"/>
<line x1="120.40" y1="503.30" x2="134.00" y2="503.30" stroke="#1a1006" stroke-width="1.9"/>
<line x1="148.55" y1="459.80" x2="148.55" y2="491.20" stroke="#151515" stroke-width="1.4"/>
<line x1="144.95" y1="459.80" x2="152.15" y2="459.80" stroke="#151515" stroke-width="1.4"/>
<line x1="148.55" y1="509.40" x2="148.55" y2="518.70" stroke="#151515" stroke-width="1.4"/>
<line x1="144.95" y1="518.70" x2="152.15" y2="518.70" stroke="#151515" stroke-width="1.4"/>
<rect x="141.75" y="491.20" width="13.60" height="18.20" fill="#579c30" stroke="#447f24" stroke-width="0.7"/>
<line x1="141.50" y1="498.80" x2="155.60" y2="498.80" stroke="#0c1606" stroke-width="1.9"/>
<line x1="169.60" y1="544.50" x2="169.60" y2="549.00" stroke="#151515" stroke-width="1.4"/>
<line x1="166.30" y1="544.50" x2="173.10" y2="544.50" stroke="#151515" stroke-width="1.4"/>
<line x1="191.00" y1="545.00" x2="191.00" y2="546.60" stroke="#151515" stroke-width="1.4"/>
<line x1="187.40" y1="545.00" x2="194.60" y2="545.00" stroke="#151515" stroke-width="1.4"/>
<rect x="184.85" y="546.60" width="12.30" height="1.80" fill="#7a6db0" stroke="#625896" stroke-width="0.7"/>
<line x1="212.40" y1="540.60" x2="212.40" y2="543.80" stroke="#151515" stroke-width="1.4"/>
<line x1="208.80" y1="540.60" x2="216.00" y2="540.60" stroke="#151515" stroke-width="1.4"/>
<rect x="205.65" y="543.80" width="13.50" height="4.60" fill="#d6821f" stroke="#b86c15" stroke-width="0.7"/>
<line x1="233.35" y1="447.10" x2="233.35" y2="486.00" stroke="#151515" stroke-width="1.4"/>
<line x1="229.75" y1="447.10" x2="236.95" y2="447.10" stroke="#151515" stroke-width="1.4"/>
<line x1="233.35" y1="500.80" x2="233.35" y2="508.40" stroke="#151515" stroke-width="1.4"/>
<line x1="229.75" y1="508.40" x2="236.95" y2="508.40" stroke="#151515" stroke-width="1.4"/>
<rect x="226.45" y="486.00" width="13.80" height="14.80" fill="#579c30" stroke="#447f24" stroke-width="0.7"/>
<line x1="226.20" y1="493.00" x2="240.50" y2="493.00" stroke="#0c1606" stroke-width="1.9"/>
<circle cx="89.50" cy="435.70" r="1.2" fill="#151515"/>
<circle cx="93.60" cy="435.70" r="1.2" fill="#151515"/>
<circle cx="97.80" cy="435.70" r="1.2" fill="#151515"/>
<circle cx="102.00" cy="435.70" r="1.2" fill="#151515"/>
<line x1="86.20" y1="439.80" x2="147.40" y2="439.80" stroke="#151515" stroke-width="1.45"/>
<line x1="86.20" y1="442.30" x2="129.50" y2="442.30" stroke="#151515" stroke-width="1.45"/>
<line x1="86.20" y1="444.50" x2="107.40" y2="444.50" stroke="#151515" stroke-width="1.45"/>
<circle cx="217.00" cy="433.70" r="1.2" fill="#151515"/>
<circle cx="220.90" cy="433.70" r="1.2" fill="#151515"/>
<circle cx="225.00" cy="433.70" r="1.2" fill="#151515"/>
<circle cx="228.90" cy="433.70" r="1.2" fill="#151515"/>
<line x1="171.50" y1="437.50" x2="232.70" y2="437.50" stroke="#151515" stroke-width="1.45"/>
<line x1="188.80" y1="439.80" x2="232.70" y2="439.80" stroke="#151515" stroke-width="1.45"/>
<line x1="212.70" y1="441.80" x2="232.70" y2="441.80" stroke="#151515" stroke-width="1.45"/>
<text x="269.20" y="428.00" font-family='"Liberation Sans", sans-serif' font-weight="bold" font-size="14.60" style="stroke:none">F</text>
<line x1="334.10" y1="436.20" x2="334.10" y2="553.15" stroke="#000" stroke-width="1.7"/>
<line x1="333.25" y1="552.30" x2="506.30" y2="552.30" stroke="#000" stroke-width="1.7"/>
<line x1="330.50" y1="438.80" x2="334.10" y2="438.80" stroke="#151515" stroke-width="1.3"/>
<line x1="330.50" y1="476.70" x2="334.10" y2="476.70" stroke="#151515" stroke-width="1.3"/>
<line x1="330.50" y1="514.60" x2="334.10" y2="514.60" stroke="#151515" stroke-width="1.3"/>
<line x1="330.50" y1="552.30" x2="334.10" y2="552.30" stroke="#151515" stroke-width="1.3"/>
<line x1="345.50" y1="552.30" x2="345.50" y2="556.20" stroke="#151515" stroke-width="1.3"/>
<line x1="366.80" y1="552.30" x2="366.80" y2="556.20" stroke="#151515" stroke-width="1.3"/>
<line x1="388.10" y1="552.30" x2="388.10" y2="556.20" stroke="#151515" stroke-width="1.3"/>
<line x1="409.40" y1="552.30" x2="409.40" y2="556.20" stroke="#151515" stroke-width="1.3"/>
<line x1="430.70" y1="552.30" x2="430.70" y2="556.20" stroke="#151515" stroke-width="1.3"/>
<line x1="452.00" y1="552.30" x2="452.00" y2="556.20" stroke="#151515" stroke-width="1.3"/>
<line x1="473.30" y1="552.30" x2="473.30" y2="556.20" stroke="#151515" stroke-width="1.3"/>
<line x1="494.60" y1="552.30" x2="494.60" y2="556.20" stroke="#151515" stroke-width="1.3"/>
<text x="327.60" y="441.16" text-anchor="end" font-family='"Liberation Sans", sans-serif' font-size="7.6">600</text>
<text x="327.60" y="479.06" text-anchor="end" font-family='"Liberation Sans", sans-serif' font-size="7.6">400</text>
<text x="327.60" y="516.96" text-anchor="end" font-family='"Liberation Sans", sans-serif' font-size="7.6">200</text>
<text x="327.60" y="554.66" text-anchor="end" font-family='"Liberation Sans", sans-serif' font-size="7.6">0</text>
<text transform="translate(294.80,494.30) rotate(-90)" text-anchor="middle" font-family='"Liberation Sans", sans-serif' font-size="9.80" textLength="40.50" lengthAdjust="spacingAndGlyphs">Heart iron</text>
<text transform="translate(307.60,494.10) rotate(-90)" text-anchor="middle" font-family='"Liberation Sans", sans-serif' font-size="9.80" textLength="72.00" lengthAdjust="spacingAndGlyphs">(µg/g wet weight)</text>
<text transform="translate(347.20,562.80) rotate(-56) scale(0.93,1)" text-anchor="end" font-family='"Liberation Sans", sans-serif' font-size="8.1" style="stroke-width:0.3px">M WT</text>
<text transform="translate(368.50,562.80) rotate(-56) scale(0.93,1)" text-anchor="end" font-family='"Liberation Sans", sans-serif' font-size="8.1" style="stroke-width:0.3px">M Bmp6 KO</text>
<text transform="translate(389.80,562.80) rotate(-56) scale(0.93,1)" text-anchor="end" font-family='"Liberation Sans", sans-serif' font-size="8.1" style="stroke-width:0.3px">M Hjv KO</text>
<text transform="translate(411.10,562.80) rotate(-56) scale(0.93,1)" text-anchor="end" font-family='"Liberation Sans", sans-serif' font-size="8.1" style="stroke-width:0.3px">M double KO</text>
<text transform="translate(432.40,562.80) rotate(-56) scale(0.93,1)" text-anchor="end" font-family='"Liberation Sans", sans-serif' font-size="8.1" style="stroke-width:0.3px">F WT</text>
<text transform="translate(453.70,562.80) rotate(-56) scale(0.93,1)" text-anchor="end" font-family='"Liberation Sans", sans-serif' font-size="8.1" style="stroke-width:0.3px">F Bmp6 KO</text>
<text transform="translate(475.00,562.80) rotate(-56) scale(0.93,1)" text-anchor="end" font-family='"Liberation Sans", sans-serif' font-size="8.1" style="stroke-width:0.3px">F Hjv KO</text>
<text transform="translate(496.30,562.80) rotate(-56) scale(0.93,1)" text-anchor="end" font-family='"Liberation Sans", sans-serif' font-size="8.1" style="stroke-width:0.3px">F double KO</text>
<line x1="345.60" y1="527.60" x2="345.60" y2="544.00" stroke="#151515" stroke-width="1.4"/>
<line x1="342.00" y1="527.60" x2="349.20" y2="527.60" stroke="#151515" stroke-width="1.4"/>
<rect x="338.95" y="544.00" width="13.30" height="8.00" fill="#9b1026" stroke="#7c0a1c" stroke-width="0.7"/>
<line x1="338.70" y1="551.40" x2="352.50" y2="551.40" stroke="#1e0206" stroke-width="1.9"/>
<line x1="366.80" y1="463.30" x2="366.80" y2="477.30" stroke="#151515" stroke-width="1.4"/>
<line x1="363.20" y1="463.30" x2="370.40" y2="463.30" stroke="#151515" stroke-width="1.4"/>
<line x1="366.80" y1="496.90" x2="366.80" y2="516.50" stroke="#151515" stroke-width="1.4"/>
<line x1="363.20" y1="516.50" x2="370.40" y2="516.50" stroke="#151515" stroke-width="1.4"/>
<rect x="360.05" y="477.30" width="13.50" height="19.60" fill="#7a6db0" stroke="#625896" stroke-width="0.7"/>
<line x1="359.80" y1="488.80" x2="373.80" y2="488.80" stroke="#15113a" stroke-width="1.9"/>
<line x1="388.00" y1="465.80" x2="388.00" y2="486.00" stroke="#151515" stroke-width="1.4"/>
<line x1="384.40" y1="465.80" x2="391.60" y2="465.80" stroke="#151515" stroke-width="1.4"/>
<line x1="388.00" y1="506.00" x2="388.00" y2="525.20" stroke="#151515" stroke-width="1.4"/>
<line x1="384.40" y1="525.20" x2="391.60" y2="525.20" stroke="#151515" stroke-width="1.4"/>
<rect x="381.25" y="486.00" width="13.50" height="20.00" fill="#d6821f" stroke="#b86c15" stroke-width="0.7"/>
<line x1="381.00" y1="502.70" x2="395.00" y2="502.70" stroke="#1a1006" stroke-width="1.9"/>
<line x1="409.15" y1="462.70" x2="409.15" y2="477.10" stroke="#151515" stroke-width="1.4"/>
<line x1="405.55" y1="462.70" x2="412.75" y2="462.70" stroke="#151515" stroke-width="1.4"/>
<line x1="409.15" y1="498.50" x2="409.15" y2="519.00" stroke="#151515" stroke-width="1.4"/>
<line x1="405.55" y1="519.00" x2="412.75" y2="519.00" stroke="#151515" stroke-width="1.4"/>
<rect x="402.35" y="477.10" width="13.60" height="21.40" fill="#579c30" stroke="#447f24" stroke-width="0.7"/>
<line x1="402.10" y1="486.30" x2="416.20" y2="486.30" stroke="#0c1606" stroke-width="1.9"/>
<line x1="430.85" y1="524.10" x2="430.85" y2="538.90" stroke="#151515" stroke-width="1.4"/>
<line x1="427.25" y1="524.10" x2="434.45" y2="524.10" stroke="#151515" stroke-width="1.4"/>
<line x1="430.85" y1="549.00" x2="430.85" y2="552.20" stroke="#151515" stroke-width="1.4"/>
<line x1="427.25" y1="552.20" x2="434.45" y2="552.20" stroke="#151515" stroke-width="1.4"/>
<rect x="424.05" y="538.90" width="13.60" height="10.10" fill="#9b1026" stroke="#7c0a1c" stroke-width="0.7"/>
<line x1="423.80" y1="548.00" x2="437.90" y2="548.00" stroke="#1e0206" stroke-width="1.9"/>
<line x1="452.00" y1="515.80" x2="452.00" y2="530.40" stroke="#151515" stroke-width="1.4"/>
<line x1="448.40" y1="515.80" x2="455.60" y2="515.80" stroke="#151515" stroke-width="1.4"/>
<line x1="452.00" y1="535.90" x2="452.00" y2="540.60" stroke="#151515" stroke-width="1.4"/>
<line x1="448.40" y1="540.60" x2="455.60" y2="540.60" stroke="#151515" stroke-width="1.4"/>
<rect x="445.15" y="530.40" width="13.70" height="5.50" fill="#7a6db0" stroke="#625896" stroke-width="0.7"/>
<line x1="444.90" y1="532.10" x2="459.10" y2="532.10" stroke="#15113a" stroke-width="1.9"/>
<line x1="473.15" y1="509.90" x2="473.15" y2="513.10" stroke="#151515" stroke-width="1.4"/>
<line x1="469.55" y1="509.90" x2="476.75" y2="509.90" stroke="#151515" stroke-width="1.4"/>
<line x1="473.15" y1="541.20" x2="473.15" y2="546.50" stroke="#151515" stroke-width="1.4"/>
<line x1="469.55" y1="546.50" x2="476.75" y2="546.50" stroke="#151515" stroke-width="1.4"/>
<rect x="466.35" y="513.10" width="13.60" height="28.10" fill="#d6821f" stroke="#b86c15" stroke-width="0.7"/>
<line x1="466.10" y1="532.50" x2="480.20" y2="532.50" stroke="#1a1006" stroke-width="1.9"/>
<line x1="494.40" y1="453.80" x2="494.40" y2="474.60" stroke="#151515" stroke-width="1.4"/>
<line x1="490.80" y1="453.80" x2="498.00" y2="453.80" stroke="#151515" stroke-width="1.4"/>
<line x1="494.40" y1="496.60" x2="494.40" y2="514.60" stroke="#151515" stroke-width="1.4"/>
<line x1="490.80" y1="514.60" x2="498.00" y2="514.60" stroke="#151515" stroke-width="1.4"/>
<rect x="487.45" y="474.60" width="13.90" height="22.00" fill="#579c30" stroke="#447f24" stroke-width="0.7"/>
<line x1="487.20" y1="489.80" x2="501.60" y2="489.80" stroke="#0c1606" stroke-width="1.9"/>
<circle cx="351.10" cy="438.90" r="1.2" fill="#151515"/>
<circle cx="355.10" cy="438.90" r="1.2" fill="#151515"/>
<circle cx="359.20" cy="438.90" r="1.2" fill="#151515"/>
<circle cx="363.10" cy="438.90" r="1.2" fill="#151515"/>
<line x1="346.90" y1="442.80" x2="408.50" y2="442.80" stroke="#151515" stroke-width="1.45"/>
<line x1="346.90" y1="445.40" x2="390.00" y2="445.40" stroke="#151515" stroke-width="1.45"/>
<line x1="347.70" y1="447.70" x2="368.00" y2="447.70" stroke="#151515" stroke-width="1.45"/>
<circle cx="478.10" cy="436.90" r="1.2" fill="#151515"/>
<circle cx="482.00" cy="436.90" r="1.2" fill="#151515"/>
<circle cx="486.20" cy="436.90" r="1.2" fill="#151515"/>
<circle cx="490.40" cy="436.90" r="1.2" fill="#151515"/>
<line x1="431.90" y1="440.50" x2="493.80" y2="440.50" stroke="#151515" stroke-width="1.45"/>
<line x1="450.40" y1="442.60" x2="493.80" y2="442.60" stroke="#151515" stroke-width="1.45"/>
<line x1="473.50" y1="444.90" x2="493.80" y2="444.90" stroke="#151515" stroke-width="1.45"/>
<text x="140.10" y="622.80" font-family='"Liberation Sans", sans-serif' font-weight="bold" font-size="14.60" style="stroke:none">G</text>
<line x1="193.00" y1="638.90" x2="193.00" y2="757.35" stroke="#000" stroke-width="1.7"/>
<line x1="192.15" y1="756.50" x2="365.70" y2="756.50" stroke="#000" stroke-width="1.7"/>
<line x1="189.40" y1="642.40" x2="193.00" y2="642.40" stroke="#151515" stroke-width="1.3"/>
<line x1="189.40" y1="680.50" x2="193.00" y2="680.50" stroke="#151515" stroke-width="1.3"/>
<line x1="189.40" y1="718.60" x2="193.00" y2="718.60" stroke="#151515" stroke-width="1.3"/>
<line x1="189.40" y1="756.70" x2="193.00" y2="756.70" stroke="#151515" stroke-width="1.3"/>
<line x1="203.80" y1="756.50" x2="203.80" y2="760.40" stroke="#151515" stroke-width="1.3"/>
<line x1="225.10" y1="756.50" x2="225.10" y2="760.40" stroke="#151515" stroke-width="1.3"/>
<line x1="246.50" y1="756.50" x2="246.50" y2="760.40" stroke="#151515" stroke-width="1.3"/>
<line x1="267.90" y1="756.50" x2="267.90" y2="760.40" stroke="#151515" stroke-width="1.3"/>
<line x1="289.30" y1="756.50" x2="289.30" y2="760.40" stroke="#151515" stroke-width="1.3"/>
<line x1="310.70" y1="756.50" x2="310.70" y2="760.40" stroke="#151515" stroke-width="1.3"/>
<line x1="332.10" y1="756.50" x2="332.10" y2="760.40" stroke="#151515" stroke-width="1.3"/>
<line x1="353.50" y1="756.50" x2="353.50" y2="760.40" stroke="#151515" stroke-width="1.3"/>
<text x="186.50" y="644.76" text-anchor="end" font-family='"Liberation Sans", sans-serif' font-size="7.6">6</text>
<text x="186.50" y="682.86" text-anchor="end" font-family='"Liberation Sans", sans-serif' font-size="7.6">4</text>
<text x="186.50" y="720.96" text-anchor="end" font-family='"Liberation Sans", sans-serif' font-size="7.6">2</text>
<text x="186.50" y="759.06" text-anchor="end" font-family='"Liberation Sans", sans-serif' font-size="7.6">0</text>
<text transform="translate(162.60,697.50) rotate(-90)" text-anchor="middle" font-family='"Liberation Sans", sans-serif' font-size="9.60" textLength="89.50" lengthAdjust="spacingAndGlyphs">Non-transferrin bound</text>
<text transform="translate(174.70,697.80) rotate(-90)" text-anchor="middle" font-family='"Liberation Sans", sans-serif' font-size="9.60" textLength="36.50" lengthAdjust="spacingAndGlyphs">iron (AU)</text>
<text transform="translate(205.50,767.00) rotate(-56) scale(0.93,1)" text-anchor="end" font-family='"Liberation Sans", sans-serif' font-size="8.1" style="stroke-width:0.3px">M WT</text>
<text transform="translate(226.80,767.00) rotate(-56) scale(0.93,1)" text-anchor="end" font-family='"Liberation Sans", sans-serif' font-size="8.1" style="stroke-width:0.3px">M Bmp6 KO</text>
<text transform="translate(248.20,767.00) rotate(-56) scale(0.93,1)" text-anchor="end" font-family='"Liberation Sans", sans-serif' font-size="8.1" style="stroke-width:0.3px">M Hjv KO</text>
<text transform="translate(269.60,767.00) rotate(-56) scale(0.93,1)" text-anchor="end" font-family='"Liberation Sans", sans-serif' font-size="8.1" style="stroke-width:0.3px">M double KO</text>
<text transform="translate(291.00,767.00) rotate(-56) scale(0.93,1)" text-anchor="end" font-family='"Liberation Sans", sans-serif' font-size="8.1" style="stroke-width:0.3px">F WT</text>
<text transform="translate(312.40,767.00) rotate(-56) scale(0.93,1)" text-anchor="end" font-family='"Liberation Sans", sans-serif' font-size="8.1" style="stroke-width:0.3px">F Bmp6 KO</text>
<text transform="translate(333.80,767.00) rotate(-56) scale(0.93,1)" text-anchor="end" font-family='"Liberation Sans", sans-serif' font-size="8.1" style="stroke-width:0.3px">F Hjv KO</text>
<text transform="translate(355.20,767.00) rotate(-56) scale(0.93,1)" text-anchor="end" font-family='"Liberation Sans", sans-serif' font-size="8.1" style="stroke-width:0.3px">F double KO</text>
<line x1="203.80" y1="748.70" x2="203.80" y2="756.50" stroke="#151515" stroke-width="1.4"/>
<line x1="200.20" y1="748.70" x2="207.40" y2="748.70" stroke="#151515" stroke-width="1.4"/>
<line x1="225.65" y1="649.90" x2="225.65" y2="669.60" stroke="#151515" stroke-width="1.4"/>
<line x1="222.05" y1="649.90" x2="229.25" y2="649.90" stroke="#151515" stroke-width="1.4"/>
<line x1="225.65" y1="729.70" x2="225.65" y2="739.80" stroke="#151515" stroke-width="1.4"/>
<line x1="222.05" y1="739.80" x2="229.25" y2="739.80" stroke="#151515" stroke-width="1.4"/>
<rect x="218.85" y="669.60" width="13.60" height="60.10" fill="#7a6db0" stroke="#625896" stroke-width="0.7"/>
<line x1="218.60" y1="712.70" x2="232.70" y2="712.70" stroke="#15113a" stroke-width="1.9"/>
<line x1="246.80" y1="700.00" x2="246.80" y2="721.80" stroke="#151515" stroke-width="1.4"/>
<line x1="243.20" y1="700.00" x2="250.40" y2="700.00" stroke="#151515" stroke-width="1.4"/>
<line x1="246.80" y1="736.60" x2="246.80" y2="739.20" stroke="#151515" stroke-width="1.4"/>
<line x1="243.20" y1="739.20" x2="250.40" y2="739.20" stroke="#151515" stroke-width="1.4"/>
<rect x="239.95" y="721.80" width="13.70" height="14.80" fill="#d6821f" stroke="#b86c15" stroke-width="0.7"/>
<line x1="239.70" y1="728.60" x2="253.90" y2="728.60" stroke="#1a1006" stroke-width="1.9"/>
<line x1="268.30" y1="701.10" x2="268.30" y2="702.40" stroke="#151515" stroke-width="1.4"/>
<line x1="264.70" y1="701.10" x2="271.90" y2="701.10" stroke="#151515" stroke-width="1.4"/>
<line x1="268.30" y1="727.50" x2="268.30" y2="748.30" stroke="#151515" stroke-width="1.4"/>
<line x1="264.70" y1="748.30" x2="271.90" y2="748.30" stroke="#151515" stroke-width="1.4"/>
<rect x="261.15" y="702.40" width="14.30" height="25.10" fill="#579c30" stroke="#447f24" stroke-width="0.7"/>
<line x1="260.90" y1="714.00" x2="275.70" y2="714.00" stroke="#0c1606" stroke-width="1.9"/>
<line x1="289.70" y1="747.60" x2="289.70" y2="750.40" stroke="#151515" stroke-width="1.4"/>
<line x1="286.10" y1="747.60" x2="293.30" y2="747.60" stroke="#151515" stroke-width="1.4"/>
<rect x="282.75" y="750.40" width="13.90" height="5.30" fill="#9b1026" stroke="#7c0a1c" stroke-width="0.7"/>
<line x1="311.20" y1="733.50" x2="311.20" y2="737.70" stroke="#151515" stroke-width="1.4"/>
<line x1="307.60" y1="733.50" x2="314.80" y2="733.50" stroke="#151515" stroke-width="1.4"/>
<line x1="311.20" y1="750.40" x2="311.20" y2="756.00" stroke="#151515" stroke-width="1.4"/>
<line x1="307.60" y1="756.00" x2="314.80" y2="756.00" stroke="#151515" stroke-width="1.4"/>
<rect x="304.15" y="737.70" width="14.10" height="12.70" fill="#7a6db0" stroke="#625896" stroke-width="0.7"/>
<line x1="303.90" y1="746.20" x2="318.50" y2="746.20" stroke="#15113a" stroke-width="1.9"/>
<line x1="332.50" y1="740.40" x2="332.50" y2="745.50" stroke="#151515" stroke-width="1.4"/>
<line x1="328.90" y1="740.40" x2="336.10" y2="740.40" stroke="#151515" stroke-width="1.4"/>
<line x1="332.50" y1="752.90" x2="332.50" y2="754.60" stroke="#151515" stroke-width="1.4"/>
<line x1="328.90" y1="754.60" x2="336.10" y2="754.60" stroke="#151515" stroke-width="1.4"/>
<rect x="325.35" y="745.50" width="14.30" height="7.40" fill="#d6821f" stroke="#b86c15" stroke-width="0.7"/>
<line x1="325.10" y1="748.30" x2="339.90" y2="748.30" stroke="#1a1006" stroke-width="1.9"/>
<line x1="353.80" y1="684.40" x2="353.80" y2="697.10" stroke="#151515" stroke-width="1.4"/>
<line x1="350.20" y1="684.40" x2="357.40" y2="684.40" stroke="#151515" stroke-width="1.4"/>
<line x1="353.80" y1="737.10" x2="353.80" y2="740.20" stroke="#151515" stroke-width="1.4"/>
<line x1="350.20" y1="740.20" x2="357.40" y2="740.20" stroke="#151515" stroke-width="1.4"/>
<rect x="346.85" y="697.10" width="13.90" height="40.00" fill="#579c30" stroke="#447f24" stroke-width="0.7"/>
<line x1="346.60" y1="717.60" x2="361.00" y2="717.60" stroke="#0c1606" stroke-width="1.9"/>
<circle cx="248.00" cy="625.80" r="1.2" fill="#151515"/>
<circle cx="252.10" cy="625.80" r="1.2" fill="#151515"/>
<circle cx="256.20" cy="625.80" r="1.2" fill="#151515"/>
<circle cx="260.30" cy="625.80" r="1.2" fill="#151515"/>
<line x1="203.40" y1="630.30" x2="265.70" y2="630.30" stroke="#151515" stroke-width="1.45"/>
<line x1="203.40" y1="635.80" x2="246.90" y2="635.80" stroke="#151515" stroke-width="1.45"/>
<line x1="204.50" y1="643.10" x2="224.90" y2="643.10" stroke="#151515" stroke-width="1.45"/>
<circle cx="238.00" cy="633.40" r="1.2" fill="#151515"/>
<circle cx="242.30" cy="633.40" r="1.2" fill="#151515"/>
<circle cx="207.50" cy="639.50" r="1.2" fill="#151515"/>
<circle cx="211.60" cy="639.50" r="1.2" fill="#151515"/>
<circle cx="215.70" cy="639.50" r="1.2" fill="#151515"/>
<circle cx="219.80" cy="639.50" r="1.2" fill="#151515"/>
<line x1="291.50" y1="643.80" x2="353.20" y2="643.80" stroke="#151515" stroke-width="1.45"/>
<circle cx="337.00" cy="640.00" r="1.2" fill="#151515"/>
<circle cx="341.10" cy="640.00" r="1.2" fill="#151515"/>
<circle cx="345.20" cy="640.00" r="1.2" fill="#151515"/>
<circle cx="349.30" cy="640.00" r="1.2" fill="#151515"/>
</svg>
</div></body></html>
